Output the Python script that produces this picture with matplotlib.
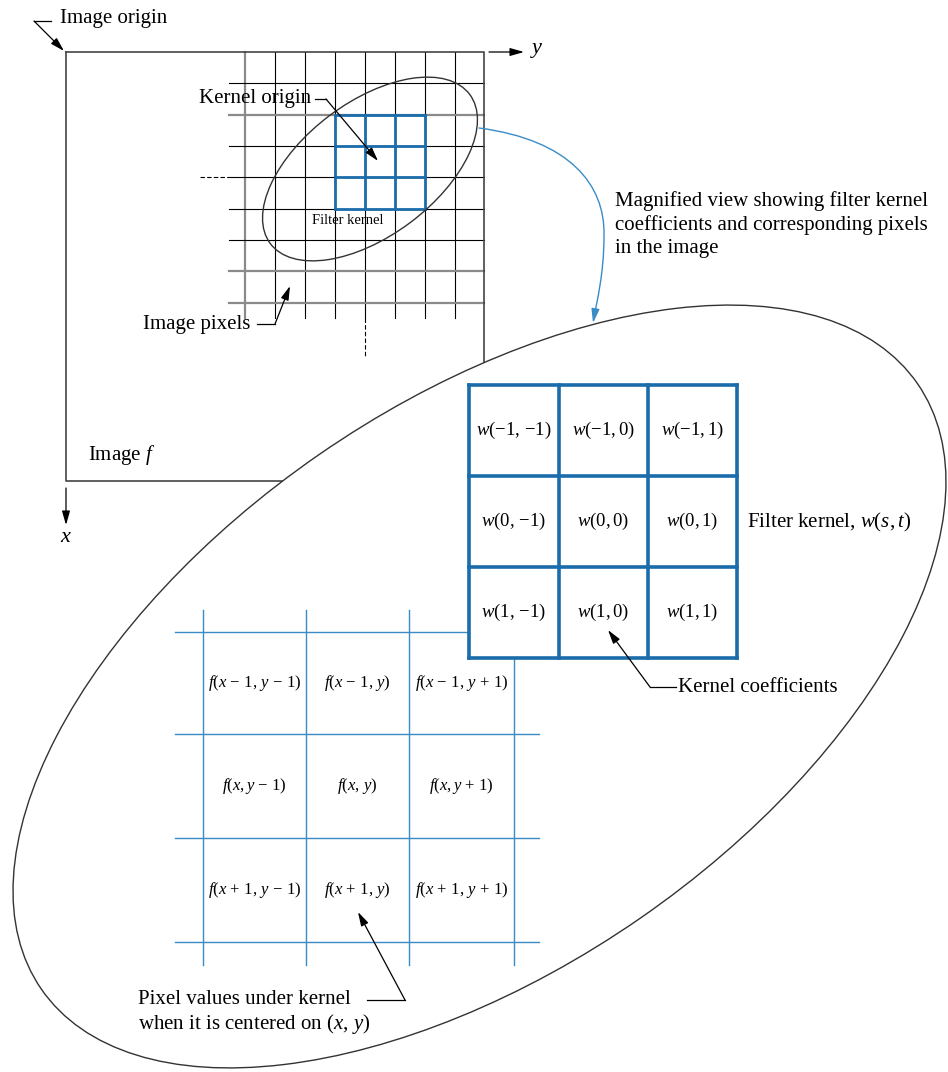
import numpy as np
import matplotlib.pyplot as plt
from matplotlib.patches import Ellipse, Rectangle, FancyArrowPatch
from matplotlib.path import Path

plt.rcParams['font.family'] = 'Liberation Serif'
plt.rcParams['mathtext.fontset'] = 'custom'
plt.rcParams['mathtext.rm'] = 'Liberation Serif'
plt.rcParams['mathtext.it'] = 'Liberation Serif:italic'

# image grid (pixel lines of the small view)
img_cols = [245, 275, 305, 335, 365, 395, 425, 455]
img_rows = [83.3, 114.6, 146, 177, 208.5, 240, 271, 302.5]
gray_cols = [245]
gray_rows = [114.6, 271, 302.5]

# filter kernel w(s,t) in magnified view
w_cols = [469, 559, 648, 737]
w_rows = [385, 476, 567, 658]
w_labels = [[r'$w(-1,\,{-}1)$', r'$w(-1,0)$', r'$w(-1,1)$'],
            [r'$w(0,\,{-}1)$', r'$w(0,0)$', r'$w(0,1)$'],
            [r'$w(1,\,{-}1)$', r'$w(1,0)$', r'$w(1,1)$']]

# image pixels under kernel
f_cols = [203, 306, 409, 514]
f_rows = [632, 734, 838, 942]
f_labels = [[r'$f(x\,-\,1,\,y\,-\,1)$', r'$f(x\,-\,1,\,y)$', r'$f(x\,-\,1,\,y\,+\,1)$'],
            [r'$f(x,y\,-\,1)$', r'$f(x,\,y)$', r'$f(x,y\,+\,1)$'],
            [r'$f(x\,+\,1,\,y\,-\,1)$', r'$f(x\,+\,1,\,y)$', r'$f(x\,+\,1,\,y\,+\,1)$']]

blue = '#1b6cab'
lblue = '#3a8cc6'
fs = 15

fig = plt.figure(figsize=(9.48, 10.72), dpi=100)
ax = fig.add_axes([0, 0, 1, 1])
ax.set_xlim(0, 948)
ax.set_ylim(1072, 0)
ax.axis('off')

arrow = dict(arrowstyle='-|>,head_length=0.7,head_width=0.2', color='black',
             lw=0.9, shrinkA=0, shrinkB=0, mutation_scale=12)

# image border
ax.plot([66, 484, 484], [52, 52, 481], color='#444444', lw=1.2, zorder=2)
ax.plot([66, 66, 484], [52, 481, 481], color='#444444', lw=1.2, zorder=2)

# pixel grid
for x in img_cols:
    g = x in gray_cols
    ax.plot([x, x], [52, 318], color='#8a8a8a' if g else 'black', lw=1.6 if g else 0.8, zorder=1)
for y in img_rows:
    g = y in gray_rows
    ax.plot([229, 484], [y, y], color='#8a8a8a' if g else 'black', lw=1.6 if g else 0.8, zorder=1)
ax.plot([200, 229], [177, 177], color='black', lw=0.8, ls=(0, (4, 2)))
ax.plot([365, 365], [318, 358], color='black', lw=0.8, ls=(0, (4, 2)))

# small kernel
for x in [335, 365, 395, 425]:
    ax.plot([x, x], [114.6, 208.5], color=blue, lw=2.0, zorder=3)
for y in [114.6, 146, 177, 208.5]:
    ax.plot([335, 425], [y, y], color=blue, lw=2.0, zorder=3)
ax.text(348, 221, 'Filter kernel', fontsize=10.5, ha='center', va='center', zorder=4)
ax.add_patch(Ellipse((370, 169), 249, 134, angle=-36.8, fill=False,
                     edgecolor='#333333', lw=1.0, zorder=3))

# axes arrows
ax.annotate('', xy=(524, 52), xytext=(489, 52), arrowprops=arrow)
ax.text(537, 50, '$y$', fontsize=16, ha='center', va='center')
ax.annotate('', xy=(66, 525), xytext=(66, 488), arrowprops=arrow)
ax.text(66, 537, '$x$', fontsize=16, ha='center', va='center')

# labels in the small view
ax.text(60, 18, 'Image origin', fontsize=fs, va='center')
ax.plot([34, 51], [21, 21], color='black', lw=0.9)
ax.annotate('', xy=(64, 51), xytext=(34, 21), arrowprops=arrow)

ax.text(311, 99, 'Kernel origin', fontsize=fs, ha='right', va='center')
ax.plot([315, 326], [99, 99], color='black', lw=0.9)
ax.annotate('', xy=(378, 161), xytext=(326, 99), arrowprops=arrow, zorder=5)

ax.text(250, 324, 'Image pixels', fontsize=fs, ha='right', va='center')
ax.plot([257, 275], [324, 324], color='black', lw=0.9)
ax.annotate('', xy=(290, 286), xytext=(275, 324), arrowprops=arrow)

ax.text(88, 455, 'Image $f$', fontsize=fs, va='center')

# magnified view
ax.add_patch(Ellipse((479.5, 686.5), 1065, 564, angle=-34.65, facecolor='white',
                     edgecolor='#333333', lw=1.0, zorder=3))

verts = [(479, 128), (570, 140), (605, 185), (604, 235),
         (604, 275), (597, 300), (593, 323)]
codes = [Path.MOVETO] + [Path.CURVE4] * 6
ax.add_patch(FancyArrowPatch(path=Path(verts, codes), arrowstyle='-|>,head_length=0.7,head_width=0.2',
                             mutation_scale=12, color=lblue, lw=1.0, zorder=6))

for i, t in enumerate(['Magnified view showing filter kernel',
                       'coefficients and corresponding pixels',
                       'in the image']):
    ax.text(615, 201 + 24 * i, t, fontsize=fs, va='center')

# pixel grid under kernel
for x in f_cols:
    ax.plot([x, x], [610, 965], color=lblue, lw=1.0, zorder=4)
for y in f_rows:
    ax.plot([175, 539], [y, y], color=lblue, lw=1.0, zorder=4)
for r in range(3):
    for c in range(3):
        ax.text((f_cols[c] + f_cols[c + 1]) / 2, (f_rows[r] + f_rows[r + 1]) / 2,
                f_labels[r][c], fontsize=12, ha='center', va='center', zorder=5)

# kernel coefficients
ax.add_patch(Rectangle((w_cols[0], w_rows[0]), w_cols[-1] - w_cols[0], w_rows[-1] - w_rows[0],
                       facecolor='white', edgecolor='none', zorder=5))
for x in w_cols:
    ax.plot([x, x], [w_rows[0], w_rows[-1]], color=blue, lw=2.6, zorder=6, solid_capstyle='projecting')
for y in w_rows:
    ax.plot([w_cols[0], w_cols[-1]], [y, y], color=blue, lw=2.6, zorder=6, solid_capstyle='projecting')
for r in range(3):
    for c in range(3):
        ax.text((w_cols[c] + w_cols[c + 1]) / 2, (w_rows[r] + w_rows[r + 1]) / 2,
                w_labels[r][c], fontsize=13.5, ha='center', va='center', zorder=7)

ax.text(747, 522, 'Filter kernel, $w(s,t)$', fontsize=fs, va='center')

ax.text(678, 687, 'Kernel coefficients', fontsize=fs, va='center')
ax.plot([650, 676], [687, 687], color='black', lw=0.9, zorder=7)
ax.annotate('', xy=(608, 630), xytext=(650, 687), arrowprops=arrow, zorder=7)

ax.text(138, 1000, 'Pixel values under kernel', fontsize=fs, va='center', zorder=7)
ax.text(138, 1024, 'when it is centered on $(x,\\,y)$', fontsize=fs, va='center', zorder=7)
ax.plot([367, 405], [1000, 1000], color='black', lw=0.9, zorder=7)
ax.annotate('', xy=(358, 912), xytext=(405, 1000), arrowprops=arrow, zorder=7)

fig.savefig('out.png', dpi=100)
